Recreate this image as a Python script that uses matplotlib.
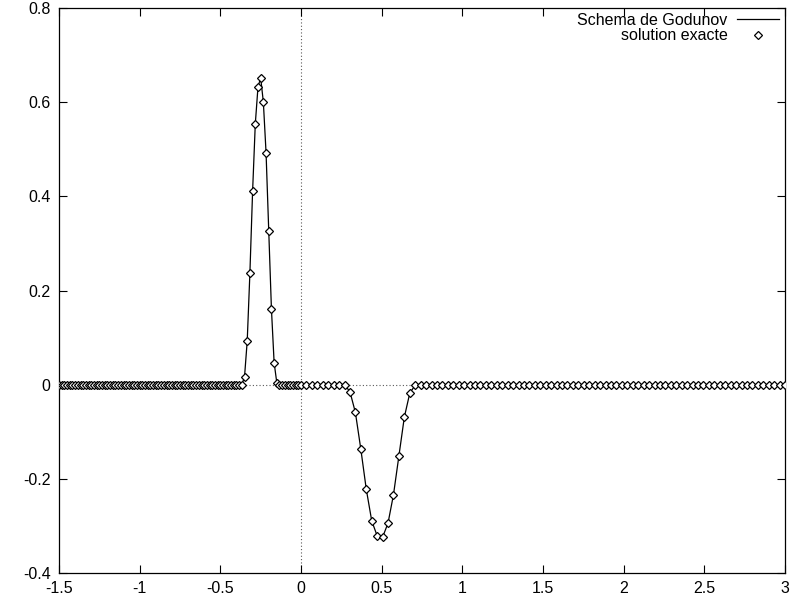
import numpy as np
import matplotlib
matplotlib.use("Agg")
import matplotlib.pyplot as plt

plt.rcParams['font.family'] = ['Liberation Sans', 'DejaVu Sans']

# mesh: fine cells on the left [-1.5, 0], coarse cells on the right (0, 3]
dx_left = 1.0 / 60
dx_right = 3.0 / 89
x_left = -1.5 + np.arange(91) * dx_left
x_right = np.arange(1, 90) * dx_right

# positive pulse (left) and negative pulse (right)
left_pulse_first = 69      # index in x_left, x = -0.35
left_pulse = [0.017, 0.093, 0.238, 0.411, 0.554, 0.632, 0.652,
              0.600, 0.493, 0.327, 0.161, 0.047, 0.004]
right_pulse_first = 8      # index in x_right
right_pulse = [-0.015, -0.059, -0.137, -0.222, -0.289, -0.321, -0.324,
               -0.294, -0.234, -0.151, -0.069, -0.018, -0.001]

y_left = np.zeros(x_left.size)
y_left[left_pulse_first:left_pulse_first + len(left_pulse)] = left_pulse
y_right = np.zeros(x_right.size)
y_right[right_pulse_first:right_pulse_first + len(right_pulse)] = right_pulse

x = np.concatenate([x_left, x_right])
u_godunov = np.concatenate([y_left, y_right])
u_exact = u_godunov.copy()

fig = plt.figure(figsize=(7.94, 5.97), dpi=100)
ax = fig.add_axes([0.0743, 0.0402, 0.9144, 0.9464])

ax.axhline(0, color='0.35', lw=0.8, ls=(0, (1, 2)), zorder=1)
ax.axvline(0, color='0.35', lw=0.8, ls=(0, (1, 2)), zorder=1)

ax.plot(x, u_godunov, color='black', lw=0.9, label='Schema de Godunov', zorder=2)
ax.plot(x, u_exact, ls='none', marker='D', ms=4.4, mfc='white', mec='black',
        mew=0.9, label='solution exacte', zorder=3)

ax.set_xlim(-1.5, 3)
ax.set_ylim(-0.4, 0.8)
ax.set_xticks([-1.5, -1, -0.5, 0, 0.5, 1, 1.5, 2, 2.5, 3])
ax.set_xticklabels(['-1.5', '-1', '-0.5', '0', '0.5', '1', '1.5', '2', '2.5', '3'])
ax.set_yticks([-0.4, -0.2, 0, 0.2, 0.4, 0.6, 0.8])
ax.set_yticklabels(['-0.4', '-0.2', '0', '0.2', '0.4', '0.6', '0.8'])
ax.tick_params(direction='in', length=6, width=0.8, top=True, right=True,
               labelsize=11.5, pad=6)
for s in ax.spines.values():
    s.set_linewidth(0.9)

ax.legend(loc='upper right', bbox_to_anchor=(1.0, 1.003), frameon=False,
          markerfirst=False, fontsize=11.5, handlelength=2.6, handletextpad=0.6,
          labelspacing=0.05, borderaxespad=0.0, borderpad=0.4)

fig.savefig('out.png', dpi=100)
